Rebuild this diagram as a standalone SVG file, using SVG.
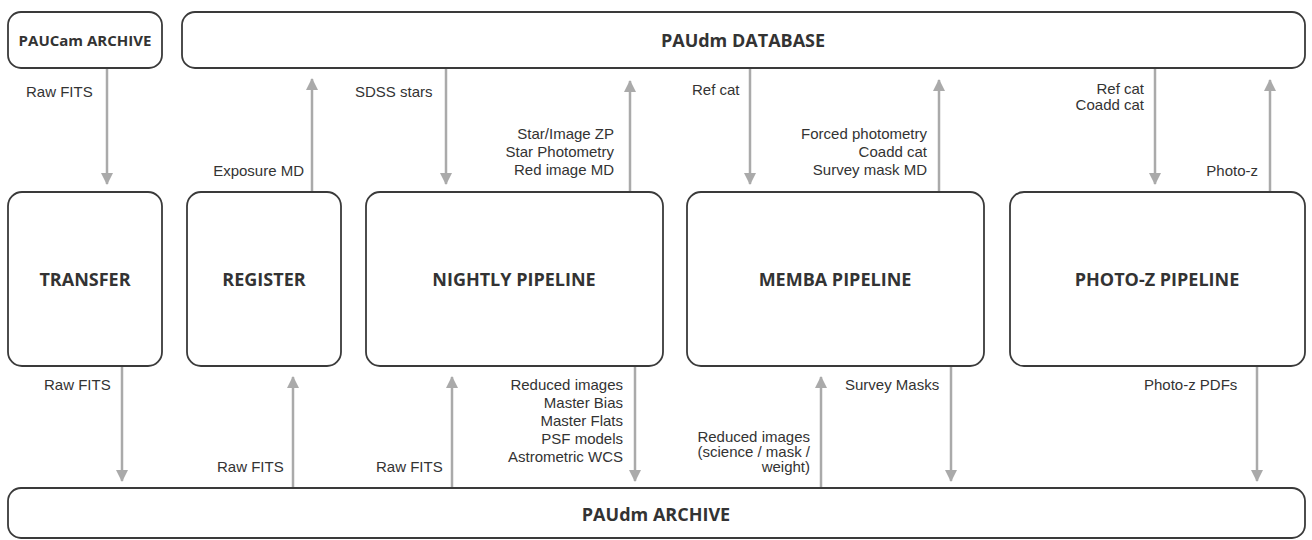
<svg xmlns="http://www.w3.org/2000/svg" width="1312" height="540" viewBox="0 0 1312 540">
<style>
.box{fill:#fff;stroke:#3a3a3a;stroke-width:1.8}
.title{font-family:"Open Sans","Noto Sans",sans-serif;font-weight:700;font-size:18px;fill:#333;text-anchor:middle;dominant-baseline:central}
.small{font-size:15px}
.lbl{font-family:"Liberation Sans",Arial,sans-serif;font-size:15px;fill:#333}
.r{text-anchor:end}
.arr{stroke:#aaa;stroke-width:2.5;fill:none;marker-end:url(#ah)}
</style>
<defs>
<marker id="ah" viewBox="0 0 12 12" refX="11" refY="6" markerWidth="12" markerHeight="12" markerUnits="userSpaceOnUse" orient="auto">
<path d="M0,0 L12,6 L0,12 Z" fill="#aaa"/>
</marker>
</defs>
<rect width="1312" height="540" fill="#fff"/>
<g id="connectors">
<line class="arr" x1="107" y1="69" x2="107" y2="184"/>
<line class="arr" x1="312" y1="191" x2="312" y2="79"/>
<line class="arr" x1="446" y1="69" x2="446" y2="184"/>
<line class="arr" x1="630" y1="191" x2="630" y2="81"/>
<line class="arr" x1="750" y1="69" x2="750" y2="184"/>
<line class="arr" x1="939" y1="191" x2="939" y2="80"/>
<line class="arr" x1="1155" y1="69" x2="1155" y2="184"/>
<line class="arr" x1="1270" y1="191" x2="1270" y2="80"/>
<line class="arr" x1="122" y1="366" x2="122" y2="481"/>
<line class="arr" x1="293" y1="487" x2="293" y2="377"/>
<line class="arr" x1="452" y1="487" x2="452" y2="377"/>
<line class="arr" x1="635" y1="366" x2="635" y2="481"/>
<line class="arr" x1="821" y1="487" x2="821" y2="377"/>
<line class="arr" x1="951" y1="366" x2="951" y2="481"/>
<line class="arr" x1="1257" y1="366" x2="1257" y2="481"/>
<g id="labels">
<text class="lbl" x="26" y="97">Raw FITS</text>
<text class="lbl r" x="304" y="176">Exposure MD</text>
<text class="lbl" x="355" y="97">SDSS stars</text>
<text class="lbl r" x="614" y="139">Star/Image ZP</text>
<text class="lbl r" x="614" y="157">Star Photometry</text>
<text class="lbl r" x="614" y="175">Red image MD</text>
<text class="lbl" x="692" y="95">Ref cat</text>
<text class="lbl r" x="927" y="139">Forced photometry</text>
<text class="lbl r" x="927" y="157">Coadd cat</text>
<text class="lbl r" x="927" y="175">Survey mask MD</text>
<text class="lbl r" x="1144" y="94">Ref cat</text>
<text class="lbl r" x="1144" y="110">Coadd cat</text>
<text class="lbl r" x="1258" y="176">Photo-z</text>
<text class="lbl" x="44" y="390">Raw FITS</text>
<text class="lbl" x="217" y="472">Raw FITS</text>
<text class="lbl" x="376" y="472">Raw FITS</text>
<text class="lbl r" x="623" y="390">Reduced images</text>
<text class="lbl r" x="623" y="408">Master Bias</text>
<text class="lbl r" x="623" y="426">Master Flats</text>
<text class="lbl r" x="623" y="444">PSF models</text>
<text class="lbl r" x="623" y="462">Astrometric WCS</text>
<text class="lbl r" x="810" y="442">Reduced images</text>
<text class="lbl r" x="810" y="457">(science / mask /</text>
<text class="lbl r" x="810" y="472">weight)</text>
<text class="lbl" x="845" y="390">Survey Masks</text>
<text class="lbl" x="1144" y="390">Photo-z PDFs</text>
</g>
</g>
<g id="paucam-archive">
<rect class="box" x="8" y="12" width="154" height="56" rx="13"/>
<text class="title small" x="85" y="40">PAUCam ARCHIVE</text>
</g>
<g id="paudm-database">
<rect class="box" x="182" y="12" width="1123" height="56" rx="13"/>
<text class="title" x="743" y="40">PAUdm DATABASE</text>
</g>
<g id="transfer">
<rect class="box" x="8" y="192" width="154" height="174" rx="14"/>
<text class="title" x="85" y="279">TRANSFER</text>
</g>
<g id="register">
<rect class="box" x="187" y="192" width="154" height="174" rx="14"/>
<text class="title" x="264" y="279">REGISTER</text>
</g>
<g id="nightly">
<rect class="box" x="366" y="192" width="297" height="174" rx="14"/>
<text class="title" x="514" y="279">NIGHTLY PIPELINE</text>
</g>
<g id="memba">
<rect class="box" x="687" y="192" width="297" height="174" rx="14"/>
<text class="title" x="835" y="279">MEMBA PIPELINE</text>
</g>
<g id="photoz">
<rect class="box" x="1010" y="192" width="295" height="174" rx="14"/>
<text class="title" x="1157" y="279">PHOTO-Z PIPELINE</text>
</g>
<g id="paudm-archive">
<rect class="box" x="8" y="488" width="1297" height="50" rx="13"/>
<text class="title" x="656" y="514">PAUdm ARCHIVE</text>
</g>
</svg>
